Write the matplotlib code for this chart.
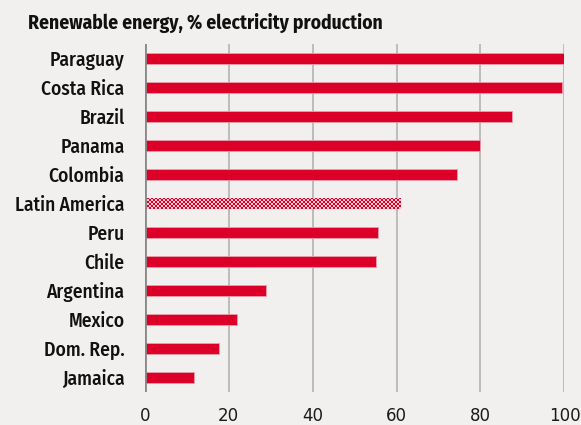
import numpy as np
import matplotlib
matplotlib.use("Agg")
import matplotlib.pyplot as plt

countries = ["Paraguay", "Costa Rica", "Brazil", "Panama", "Colombia", "Latin America",
             "Peru", "Chile", "Argentina", "Mexico", "Dom. Rep.", "Jamaica"]
renewable_share = [100.0, 99.3, 87.6, 80.0, 74.3, 60.9, 55.5, 55.2, 29.0, 22.0, 17.6, 11.8]
highlight = "Latin America"
x_ticks = [0, 20, 40, 60, 80, 100]

bg = "#f1f0ee"
red = "#dc0028"
label_font = "Fira Sans Condensed"

fig = plt.figure(figsize=(5.81, 4.25), dpi=100, facecolor=bg)
ax = fig.add_axes([0.249, 0.0776, 0.7225, 0.8189], facecolor=bg)

ypos = np.arange(len(countries))
bar_h = 0.4
for y, name, val in zip(ypos, countries, renewable_share):
    if name == highlight:
        bar = ax.barh(y, val, height=bar_h, color="none", edgecolor="none", zorder=3)[0]
        # checkerboard fill clipped to the bar
        ncols = int(round(val * 4.2 / 2))
        nrows = 6
        checker = (np.add.outer(np.arange(nrows), np.arange(ncols)) % 2).astype(float)
        cmap = matplotlib.colors.ListedColormap(["#f6c9d0", red])
        im = ax.imshow(checker, extent=(0, val, y + bar_h / 2, y - bar_h / 2),
                       cmap=cmap, interpolation="nearest", aspect="auto", zorder=3)
        im.set_clip_path(bar)
    else:
        ax.barh(y, val, height=bar_h, color=red, edgecolor="#e8a0ad", linewidth=0.6, zorder=3)

ax.set_xlim(0, 100)
ax.set_ylim(len(countries) - 0.5, -0.5)
ax.set_xticks(x_ticks)
ax.set_xticklabels([str(t) for t in x_ticks], fontsize=12, color="#1a1a1a")
ax.tick_params(axis="x", length=0, pad=11)
ax.set_yticks(ypos)
ax.set_yticklabels(countries, fontsize=14, fontfamily=label_font, fontweight="medium", color="#111111")
ax.tick_params(axis="y", length=0, pad=14.5)

for t in x_ticks[1:]:
    ax.axvline(t, color="#b3b3b3", linewidth=1.2, zorder=1)
for s in ax.spines.values():
    s.set_visible(False)
ax.axvline(0, color="#888888", linewidth=2.0, zorder=4)

fig.text(0.048, 0.945, "Renewable energy, % electricity production", fontsize=14,
         fontfamily=label_font, fontweight="bold", color="#111111", va="center", ha="left")

fig.savefig("out.png", dpi=100, facecolor=bg)
